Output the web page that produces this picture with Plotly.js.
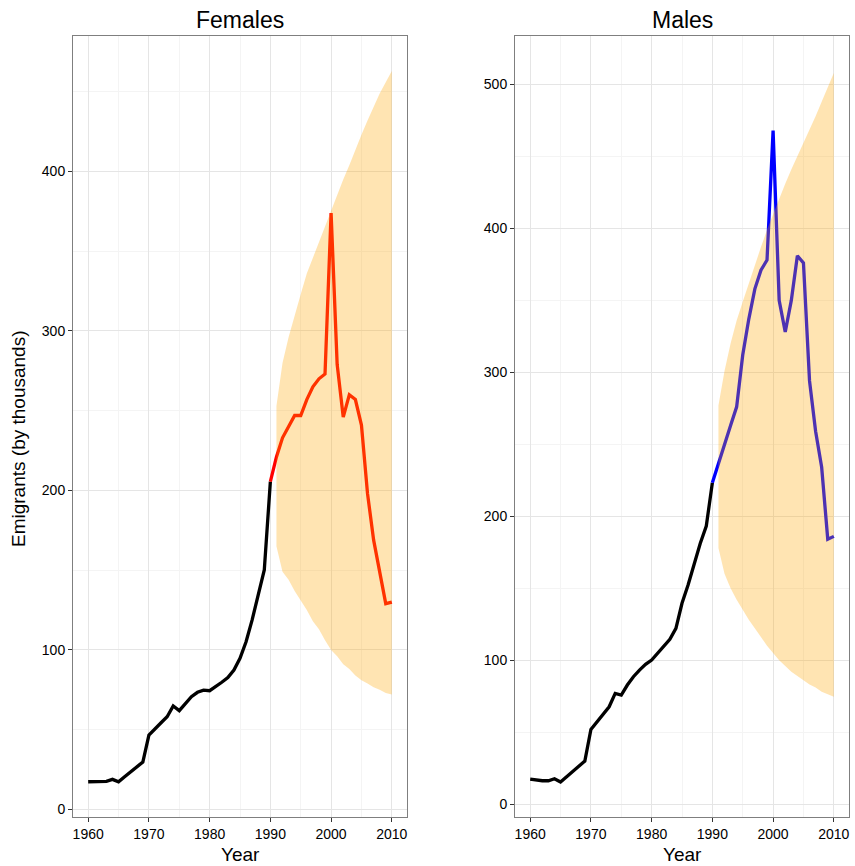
<!DOCTYPE html>
<html>
<head>
<meta charset="utf-8">
<script src="https://cdn.plot.ly/plotly-3.0.1.min.js"></script>
<style>
  html, body { margin: 0; padding: 0; background: #fff; }
  #chart { width: 855px; height: 866px; }
</style>
</head>
<body>
<div id="chart"></div>
<script>
// Observed emigrants (thousands) per year, 1960-2010
const years = [1960, 1961, 1962, 1963, 1964, 1965, 1966, 1967, 1968, 1969,
               1970, 1971, 1972, 1973, 1974, 1975, 1976, 1977, 1978, 1979,
               1980, 1981, 1982, 1983, 1984, 1985, 1986, 1987, 1988, 1989,
               1990, 1991, 1992, 1993, 1994, 1995, 1996, 1997, 1998, 1999,
               2000, 2001, 2002, 2003, 2004, 2005, 2006, 2007, 2008, 2009,
               2010];

const females = [17.3, 17.3, 17.3, 17.6, 18.8, 17.3, 20.5, 23.6, 26.7, 29.7,
                 46.6, 50.8, 54.3, 58.1, 64.8, 61.9, 66.5, 70.6, 73.4, 74.8,
                 74.4, 76.9, 79.7, 82.6, 87.4, 94.7, 105.1, 118.8, 134.4, 150.1,
                 205.5, 221, 233, 240, 247, 247, 257, 265, 270, 273,
                 374, 279, 246, 260, 257, 241, 198, 169, 150, 129,
                 130];

const males = [17.4, 16.7, 16.2, 16.2, 17.6, 15.3, 19, 22.4, 25.9, 29.9,
               51.9, 57.2, 62.3, 67.6, 76.9, 75.7, 82.7, 88.5, 93.1, 97.1,
               100.1, 104.7, 109.8, 114.5, 122.1, 139.5, 152.2, 167.3, 181, 193.2,
               223.3, 237, 250, 263, 276, 312, 337, 358, 371, 378,
               468, 350, 328, 350, 381, 376, 294, 259, 234, 184,
               186];

// Forecast band from 1991 on
const bandYears = [1991, 1992, 1993, 1994, 1995, 1996, 1997, 1998, 1999, 2000,
                   2001, 2002, 2003, 2004, 2005, 2006, 2007, 2008, 2009, 2010];
const femalesUpper = [253, 280, 296, 310, 323, 336, 346, 356, 366, 375,
                      385, 395, 404, 414, 423, 432, 441, 449, 456, 463];
const femalesLower = [165, 149, 144, 137, 131, 125, 118, 113, 106, 100,
                      96, 91, 88, 84, 81, 79, 76.5, 75, 73, 72];
const malesUpper = [277, 301, 320, 336, 349, 362, 375, 387, 399, 410,
                    421, 431, 441, 450, 459, 468, 478, 488, 498, 508];
const malesLower = [178, 160, 150, 142, 135, 128, 122, 116, 110, 105,
                    100, 96, 92, 89, 86, 83, 81, 78, 76, 74.5];

const splitYear = 1990;
const W = 855, H = 866;

function panelTraces(values, upper, lower, colour, xa, ya) {
  const idx = years.indexOf(splitYear);
  const early = {
    x: years.slice(0, idx + 1), y: values.slice(0, idx + 1),
    type: 'scatter', mode: 'lines', xaxis: xa, yaxis: ya,
    line: { color: '#000000', width: 3.3 }, hoverinfo: 'skip', showlegend: false
  };
  const late = {
    x: years.slice(idx), y: values.slice(idx),
    type: 'scatter', mode: 'lines', xaxis: xa, yaxis: ya,
    line: { color: colour, width: 3.3 }, hoverinfo: 'skip', showlegend: false
  };
  const band = {
    x: bandYears.concat(bandYears.slice().reverse()),
    y: upper.concat(lower.slice().reverse()),
    type: 'scatter', mode: 'lines', fill: 'toself', xaxis: xa, yaxis: ya,
    fillcolor: 'rgba(255,165,0,0.3)', line: { width: 0, color: 'rgba(0,0,0,0)' },
    hoverinfo: 'skip', showlegend: false
  };
  return [early, late, band];
}

const data = [].concat(
  panelTraces(females, femalesUpper, femalesLower, '#FF0000', 'x', 'y'),
  panelTraces(males, malesUpper, malesLower, '#0000FF', 'x2', 'y2')
);

const font = 'Liberation Sans, Arial, Helvetica, sans-serif';
const tickFont = { family: font, size: 14, color: '#000' };

function xAxis(domain, anchor) {
  return {
    domain: domain, anchor: anchor, range: [1957.5, 2012.5],
    tick0: 1960, dtick: 10, ticks: 'outside', ticklen: 4, tickwidth: 1, tickcolor: '#333',
    showgrid: true, gridcolor: '#E5E5E5', gridwidth: 1,
    minor: { dtick: 5, tick0: 1960, showgrid: true, gridcolor: '#F4F4F4', gridwidth: 1 },
    zeroline: false, showline: true, linecolor: '#7F7F7F', linewidth: 1, mirror: true,
    tickfont: tickFont, automargin: false
  };
}
function yAxis(domain, anchor, range) {
  return {
    domain: domain, anchor: anchor, range: range,
    tick0: 0, dtick: 100, ticks: 'outside', ticklen: 4, tickwidth: 1, tickcolor: '#333',
    showgrid: true, gridcolor: '#E5E5E5', gridwidth: 1,
    minor: { dtick: 50, tick0: 0, showgrid: true, gridcolor: '#F4F4F4', gridwidth: 1 },
    zeroline: false, showline: true, linecolor: '#7F7F7F', linewidth: 1, mirror: true,
    tickfont: tickFont, automargin: false
  };
}

const yDom = [1 - 817 / H, 1 - 36 / H];

function label(text, px, py, size, angle) {
  return {
    text: text, x: px / W, y: 1 - py / H, xref: 'paper', yref: 'paper',
    showarrow: false, xanchor: 'center', yanchor: 'middle',
    textangle: angle || 0, font: { family: font, size: size, color: '#000' }
  };
}

const layout = {
  width: W, height: H,
  margin: { l: 0, r: 0, t: 0, b: 0, pad: 0 },
  paper_bgcolor: '#FFFFFF', plot_bgcolor: '#FFFFFF',
  showlegend: false,
  xaxis: xAxis([73 / W, 407 / W], 'y'),
  yaxis: yAxis(yDom, 'x', [-4.8, 485]),
  xaxis2: xAxis([515 / W, 849 / W], 'y2'),
  yaxis2: yAxis(yDom, 'x2', [-9, 533.7]),
  annotations: [
    label('Females', 240, 20, 23),
    label('Males', 682, 20, 23),
    label('Year', 240, 854, 19),
    label('Year', 682, 854, 19),
    label('Emigrants (by thousands)', 18, 439, 19, -90)
  ]
};

Plotly.newPlot('chart', data, layout, { staticPlot: true, displayModeBar: false });
</script>
</body>
</html>
